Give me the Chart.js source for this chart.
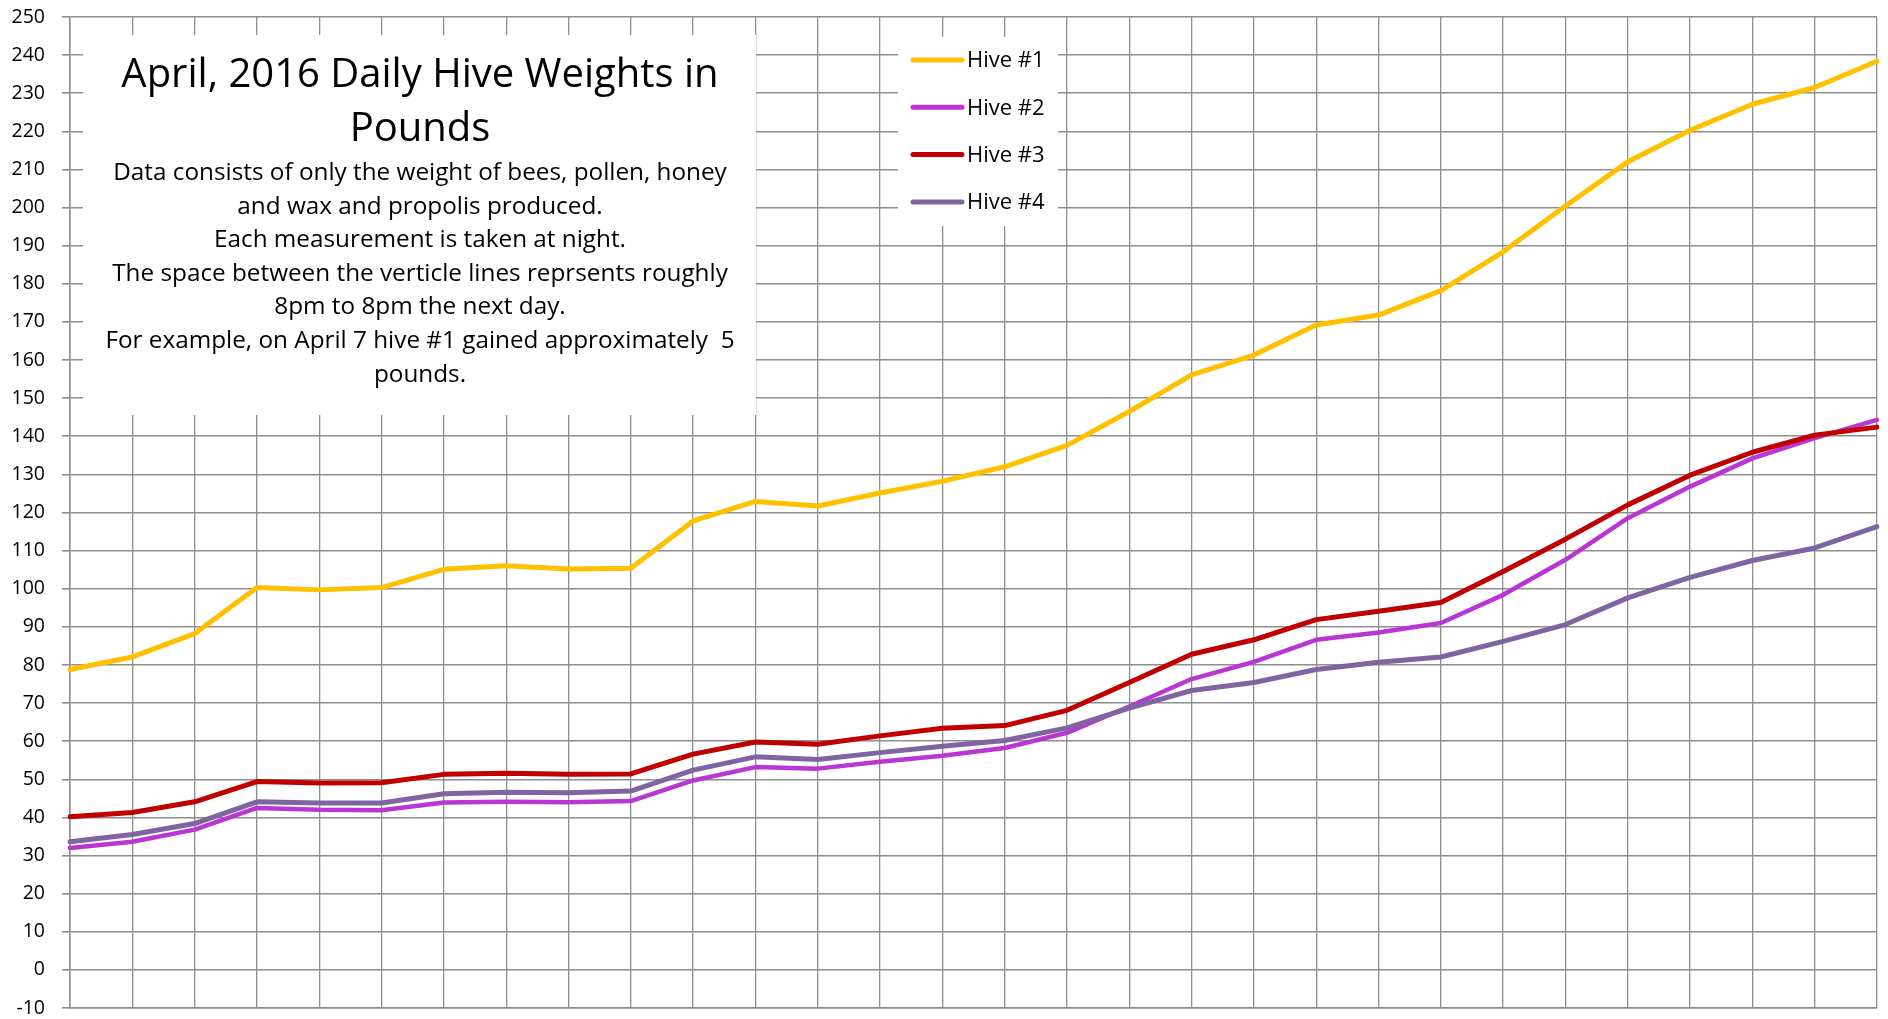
<!DOCTYPE html>
<html lang="en">
<head>
    <meta charset="UTF-8">
    <title>April 2016 Daily Hive Weights</title>
    <style>
        body {
            margin: 0;
            padding: 0;
            background-color: #ffffff;
        }

        .chart-wrap {
            position: relative;
            width: 1888px;
            height: 1019px;
        }
    </style>
</head>
<body>
    <div class="chart-wrap">
        <canvas id="hiveChart"></canvas>
    </div>

    <script src="https://cdn.jsdelivr.net/npm/chart.js"></script>
    <script>
        // Days of April (one point per nightly reading)
        var days = ['1', '2', '3', '4', '5', '6', '7', '8', '9', '10',
                    '11', '12', '13', '14', '15', '16', '17', '18', '19', '20',
                    '21', '22', '23', '24', '25', '26', '27', '28', '29', '30'];

        // Weights in pounds
        var hive1 = [78.8, 82.1, 88.2, 100.3, 99.7, 100.3, 105.1, 106.0, 105.2, 105.4,
                     117.8, 122.9, 121.7, 125.1, 128.2, 132.0, 137.6, 146.5, 156.1, 161.3,
                     169.2, 171.8, 178.2, 188.4, 200.4, 212.0, 220.3, 227.1, 231.5, 238.4];
        var hive2 = [32.0, 33.6, 36.8, 42.5, 42.0, 41.9, 43.9, 44.1, 44.0, 44.3,
                     49.7, 53.2, 52.8, 54.6, 56.2, 58.2, 62.2, 69.1, 76.3, 80.8,
                     86.6, 88.5, 91.0, 98.4, 107.6, 118.5, 126.8, 134.2, 139.5, 144.3];
        var hive3 = [40.2, 41.3, 44.1, 49.4, 49.0, 49.1, 51.3, 51.6, 51.3, 51.4,
                     56.6, 59.8, 59.2, 61.4, 63.4, 64.1, 68.1, 75.4, 82.8, 86.6,
                     91.9, 94.1, 96.4, 104.5, 113.0, 122.0, 129.8, 135.8, 140.3, 142.4];
        var hive4 = [33.6, 35.5, 38.4, 44.1, 43.8, 43.8, 46.2, 46.6, 46.5, 46.9,
                     52.4, 55.9, 55.2, 57.0, 58.7, 60.2, 63.5, 68.7, 73.3, 75.4,
                     78.8, 80.7, 82.1, 86.2, 90.6, 97.6, 103.0, 107.4, 110.7, 116.3];

        // Y axis tick range
        var yMin = -10;
        var yMax = 250;
        var yStep = 10;

        var seriesNames = ['Hive #1', 'Hive #2', 'Hive #3', 'Hive #4'];

        var titleLines = ['April, 2016 Daily Hive Weights in', 'Pounds'];
        var noteLines = [
            'Data consists of only the weight of bees, pollen, honey',
            'and wax and propolis produced.',
            'Each measurement is taken at night.',
            'The space between the verticle lines reprsents roughly',
            '8pm to 8pm the next day.',
            'For example, on April 7 hive #1 gained approximately  5',
            'pounds.'
        ];

        var FONT = '"Open Sans", Lato, sans-serif';
        var GRID = '#8e8e8e';

        // White text box and legend box drawn over the grid, under the lines
        var overlayPlugin = {
            id: 'overlay',
            beforeDatasetsDraw: function(chart) {
                var ctx = chart.ctx;
                ctx.save();

                ctx.fillStyle = '#ffffff';
                ctx.fillRect(83, 35, 673, 380);
                ctx.fillRect(898, 37, 160, 189);

                ctx.fillStyle = '#000000';
                ctx.textAlign = 'center';
                ctx.textBaseline = 'alphabetic';
                ctx.font = '40px ' + FONT;
                ctx.fillText(titleLines[0], 420, 87);
                ctx.fillText(titleLines[1], 420, 141);

                ctx.font = '24.3px ' + FONT;
                for (var i = 0; i < noteLines.length; i++) {
                    ctx.fillText(noteLines[i], 420, 180 + i * 33.6);
                }

                // legend
                ctx.textAlign = 'left';
                ctx.textBaseline = 'middle';
                ctx.font = '22px ' + FONT;
                ctx.lineCap = 'round';
                chart.data.datasets.forEach(function(ds, k) {
                    var y = 60 + k * 47.3;
                    ctx.strokeStyle = ds.borderColor;
                    ctx.lineWidth = 5;
                    ctx.beginPath();
                    ctx.moveTo(913, y);
                    ctx.lineTo(962, y);
                    ctx.stroke();
                    ctx.fillStyle = '#000000';
                    ctx.fillText(ds.label, 967, y + 1);
                });

                ctx.restore();
            }
        };

        var config = {
            type: 'line',
            data: {
                labels: days,
                datasets: [{
                    label: seriesNames[0],
                    data: hive1,
                    borderColor: '#FFC000',
                    borderWidth: 5,
                    order: 3
                }, {
                    label: seriesNames[1],
                    data: hive2,
                    borderColor: '#B936D4',
                    borderWidth: 4.5,
                    order: 2
                }, {
                    label: seriesNames[2],
                    data: hive3,
                    borderColor: '#C00000',
                    borderWidth: 5,
                    order: 1
                }, {
                    label: seriesNames[3],
                    data: hive4,
                    borderColor: '#8064A2',
                    borderWidth: 5,
                    order: 0
                }]
            },
            options: {
                responsive: true,
                maintainAspectRatio: false,
                animation: false,
                elements: {
                    point: { radius: 0, hoverRadius: 0 },
                    line: { tension: 0, borderCapStyle: 'round', borderJoinStyle: 'round' }
                },
                layout: {
                    padding: { top: 17, right: 11, bottom: 11, left: 0 }
                },
                plugins: {
                    legend: { display: false },
                    tooltip: { enabled: false },
                    title: { display: false }
                },
                scales: {
                    x: {
                        type: 'category',
                        offset: false,
                        ticks: { display: false },
                        grid: { color: GRID, lineWidth: 1.3, drawTicks: false },
                        border: { color: GRID, width: 1.5 },
                        afterFit: function(scale) {
                            scale.height = 0;
                            scale.paddingLeft = 0;
                            scale.paddingRight = 0;
                        }
                    },
                    y: {
                        min: yMin,
                        max: yMax,
                        ticks: {
                            stepSize: yStep,
                            maxTicksLimit: 40,
                            autoSkip: false,
                            padding: 17,
                            color: '#000000',
                            font: { family: FONT, size: 19.5 }
                        },
                        grid: { color: GRID, lineWidth: 1.6, tickLength: 8 },
                        border: { color: GRID, width: 1.5 },
                        afterFit: function(scale) {
                            // keep the plot area edges where the original has them
                            scale.width = 70;
                            scale.paddingTop = 0;
                            scale.paddingBottom = 0;
                        }
                    }
                }
            },
            plugins: [overlayPlugin]
        };

        var ctx = document.getElementById('hiveChart').getContext('2d');
        new Chart(ctx, config);
    </script>
</body>
</html>
